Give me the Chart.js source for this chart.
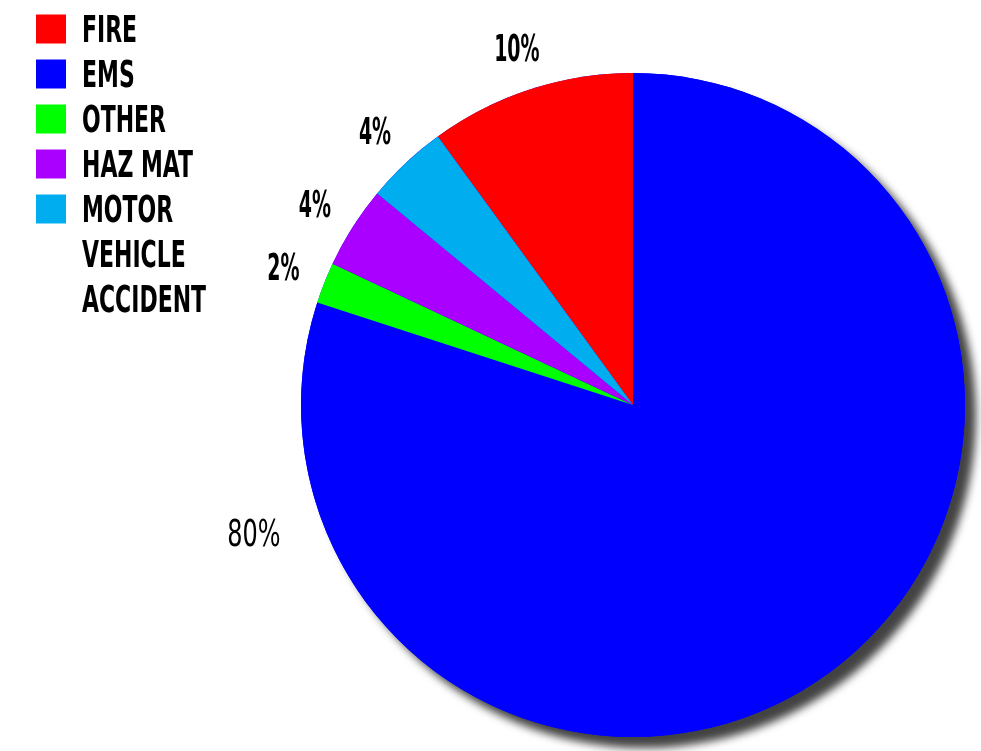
<!DOCTYPE html>
<html>
<head>
<meta charset="utf-8">
<script src="https://cdn.jsdelivr.net/npm/chart.js@4.4.1/dist/chart.umd.min.js"></script>
<style>
  html, body { margin: 0; padding: 0; background: #fff; }
  #wrap { width: 981px; height: 751px; }
</style>
</head>
<body>
<div id="wrap"><canvas id="pie" width="981" height="751"></canvas></div>
<script>
// categories (legend order), an array label is drawn over several lines
const categories = ['FIRE', 'EMS', 'OTHER', 'HAZ MAT', ['MOTOR', 'VEHICLE', 'ACCIDENT']];
const shares = [10, 80, 2, 4, 4];
const sliceColors = ['#ff0000', '#0000ff', '#00ff00', '#aa00ff', '#00aeef'];
const pctLabels = ['10%', '80%', '2%', '4%', '4%'];

const FONT = '"DejaVu Sans Condensed", "DejaVu Sans", sans-serif';
const CAP = 27;   // cap height of the 37px text

// one shadow under the whole pie so slices do not shade each other
const pieShadow = {
    id: 'pieShadow',
    beforeDatasetsDraw(chart) {
        const arc = chart.getDatasetMeta(0).data[0];
        if (!arc) return;
        const ctx = chart.ctx;
        ctx.save();
        ctx.shadowColor = 'rgba(0,0,0,0.74)';
        ctx.shadowBlur = 8;
        ctx.shadowOffsetX = 11;
        ctx.shadowOffsetY = 11;
        ctx.fillStyle = '#0000ff';
        ctx.beginPath();
        ctx.arc(arc.x, arc.y, arc.outerRadius, 0, Math.PI * 2);
        ctx.fill();
        ctx.restore();
    }
};

// the source font is a very narrow one, so squeeze the text sideways.
// y is the vertical middle of the capitals
function squeezedText(ctx, txt, x, y, align, sx) {
    ctx.save();
    ctx.translate(x, y + CAP / 2);
    ctx.scale(sx, 1);
    ctx.textAlign = align;
    ctx.textBaseline = 'alphabetic';
    ctx.fillText(txt, 0, 0);
    ctx.restore();
}

// percent labels just outside the rim (box kept a fixed gap off the edge),
// the big slice gets its label on the left side instead
const pctOutside = {
    id: 'pctOutside',
    afterDatasetsDraw(chart) {
        const ctx = chart.ctx;
        const arcs = chart.getDatasetMeta(0).data;
        ctx.save();
        ctx.fillStyle = '#000';
        arcs.forEach((arc, i) => {
            const txt = pctLabels[i];
            if (i === 1) {
                ctx.font = '37px ' + FONT;
                const a = Math.PI - 0.325;
                const d = arc.outerRadius * 1.205;
                squeezedText(ctx, txt, arc.x + Math.cos(a) * d, arc.y + Math.sin(a) * d, 'center', 0.72);
                return;
            }
            ctx.font = 'bold 37px ' + FONT;
            const sx = 0.57;
            const w = ctx.measureText(txt).width * sx;
            const mid = (arc.startAngle + arc.endAngle) / 2;
            const c = Math.cos(mid), s = Math.sin(mid);
            const d = arc.outerRadius + 24 + Math.abs(c) * w / 2 + Math.abs(s) * CAP / 2;
            squeezedText(ctx, txt, arc.x + c * d, arc.y + s * d, 'center', sx);
        });
        ctx.restore();
    }
};

const sideLegend = {
    id: 'sideLegend',
    afterDraw(chart) {
        const ctx = chart.ctx;
        const colors = chart.data.datasets[0].backgroundColor;
        let y = 28.5;
        ctx.save();
        ctx.font = 'bold 37px ' + FONT;
        chart.data.labels.forEach((lab, i) => {
            ctx.fillStyle = colors[i];
            ctx.fillRect(36, y - 14, 30, 29);
            ctx.fillStyle = '#000';
            const lines = Array.isArray(lab) ? lab : [lab];
            lines.forEach(line => {
                squeezedText(ctx, line, 82, y, 'left', 0.66);
                y += 45;
            });
        });
        ctx.restore();
    }
};

new Chart(document.getElementById('pie'), {
    type: 'pie',
    data: {
        labels: categories,
        datasets: [{
            data: shares,
            backgroundColor: sliceColors,
            borderWidth: 0
        }]
    },
    options: {
        responsive: false,
        animation: false,
        rotation: -36,
        layout: { padding: { left: 301, right: 16, top: 73, bottom: 14 } },
        plugins: {
            legend: { display: false },
            tooltip: { enabled: false }
        }
    },
    plugins: [pieShadow, pctOutside, sideLegend]
});
</script>
</body>
</html>
